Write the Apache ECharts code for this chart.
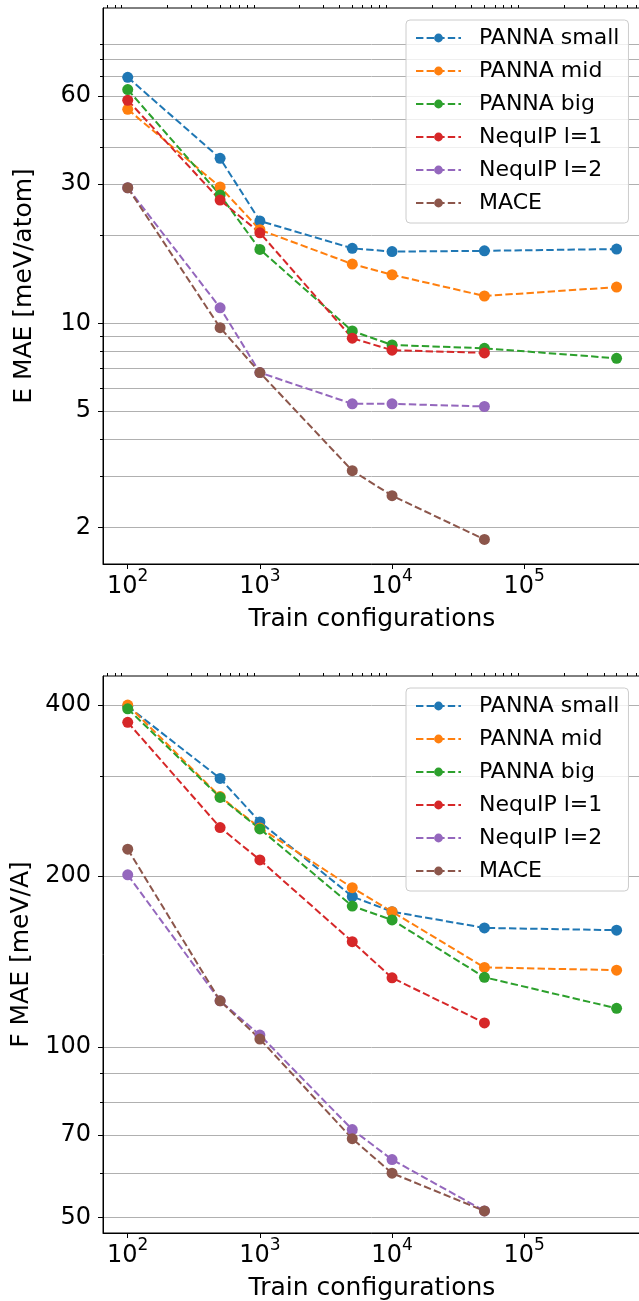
<!DOCTYPE html>
<html>
<head>
<meta charset="utf-8">
<script src="https://cdn.jsdelivr.net/npm/echarts@6/dist/echarts.min.js"></script>
<style>
  html, body { margin: 0; padding: 0; background: #fff; }
  #chart { width: 639px; height: 1301px; }
</style>
</head>
<body>
<div id="chart"></div>
<script>
// number of training configurations (x)
const trainSizes = [100, 500, 1000, 5000, 10000, 50000, 500000];
const modelNames = ["PANNA small", "PANNA mid", "PANNA big", "NequIP l=1", "NequIP l=2", "MACE"];
const colors = ["#1f77b4", "#ff7f0e", "#2ca02c", "#d62728", "#9467bd", "#8c564b"];

// E MAE [meV/atom]
const ePannaSmall = [69.5, 36.7, 22.4, 18.05, 17.6, 17.7, 17.95];
const ePannaMid   = [54.0, 29.3, 20.9, 15.95, 14.66, 12.4, 13.3];
const ePannaBig   = [63.1, 27.5, 17.9, 9.41, 8.43, 8.21, 7.59];
const eNequip1    = [58.0, 26.4, 20.4, 8.89, 8.09, 7.92];
const eNequip2    = [29.1, 11.3, 6.78, 5.30, 5.30, 5.19];
const eMace       = [29.1, 9.66, 6.78, 3.13, 2.57, 1.82];

// F MAE [meV/A]
const fPannaSmall = [398, 297, 249, 184, 173, 162, 160.5];
const fPannaMid   = [400, 276, 243, 190.7, 173, 138, 136.5];
const fPannaBig   = [394, 275, 242, 177, 167.3, 132.6, 116.9];
const fNequip1    = [373, 243.4, 213.4, 153.2, 132.3, 110.2];
const fNequip2    = [200.9, 120.5, 104.9, 71.5, 63.3, 51.4];
const fMace       = [222.9, 120.5, 103.2, 68.9, 59.9, 51.4];

// ticks
const xMajorTicks = [100, 1000, 10000, 100000];
const xMinorTicks = [70, 80, 90, 200, 300, 400, 500, 600, 700, 800, 900,
  2000, 3000, 4000, 5000, 6000, 7000, 8000, 9000,
  20000, 30000, 40000, 50000, 60000, 70000, 80000, 90000,
  200000, 300000, 400000, 500000, 600000, 700000];
const eMajorTicks = [2, 5, 10, 30, 60];
const eMinorTicks = [3, 4, 6, 7, 8, 9, 20, 40, 50, 70, 80, 90];
const fMajorTicks = [50, 70, 100, 200, 400];
const fMinorTicks = [60, 80, 90, 300];

const FONT = "DejaVu Sans";
const GRID_COLOR = "#b0b0b0";

const chart = echarts.init(document.getElementById("chart"), null, { renderer: "canvas" });

function xAxes(gridIndex) {
  return [
    {
      type: "log", gridIndex, min: 65, max: 765000,
      axisLine: { show: true, onZero: false, lineStyle: { color: "#000", width: 1 } },
      axisTick: { show: true, length: 5, customValues: xMajorTicks, lineStyle: { color: "#000", width: 1 } },
      axisLabel: {
        customValues: xMajorTicks, margin: 4,
        formatter: (v) => "{b|10}{s|" + Math.round(Math.log10(v)) + "}",
        rich: {
          b: { fontSize: 24, lineHeight: 38, verticalAlign: "middle", fontFamily: FONT, color: "#000" },
          s: { fontSize: 17, lineHeight: 17, verticalAlign: "top", fontFamily: FONT, color: "#000" },
        },
      },
      splitLine: { show: false },
      name: "Train configurations", nameLocation: "middle", nameGap: 43,
      nameTextStyle: { fontSize: 25, fontFamily: FONT, color: "#000" },
    },
    {
      type: "log", gridIndex, min: 65, max: 765000,
      axisLine: { show: false },
      axisTick: { show: true, length: 3, customValues: xMinorTicks, lineStyle: { color: "#000", width: 1 } },
      axisLabel: { show: false },
      splitLine: { show: false },
    },
  ];
}

function yAxes(gridIndex, min, max, major, minor, name) {
  return [
    {
      type: "log", gridIndex, min, max,
      axisLine: { show: true, lineStyle: { color: "#000", width: 1 } },
      axisTick: { show: true, length: 5, customValues: major, lineStyle: { color: "#000", width: 1 } },
      axisLabel: {
        customValues: major, margin: 12, formatter: (v) => String(Math.round(v)),
        fontSize: 24, fontFamily: FONT, color: "#000",
      },
      splitLine: { show: true, lineStyle: { color: GRID_COLOR, width: 1 } },
      name, nameLocation: "middle", nameGap: 66,
      nameTextStyle: { fontSize: 25, fontFamily: FONT, color: "#000" },
    },
    {
      type: "log", gridIndex, min, max, position: "left",
      axisLine: { show: false },
      axisTick: { show: true, length: 3, customValues: minor, lineStyle: { color: "#000", width: 1 } },
      axisLabel: { show: false },
      splitLine: { show: true, lineStyle: { color: GRID_COLOR, width: 1 } },
    },
  ];
}

function makeSeries(sets, xIdx, yIdx) {
  return sets.map((vals, i) => ({
    name: modelNames[i],
    type: "line",
    xAxisIndex: xIdx,
    yAxisIndex: yIdx,
    data: vals.map((v, k) => [trainSizes[k], v]),
    symbol: "circle",
    symbolSize: 11,
    itemStyle: { color: colors[i] },
    lineStyle: { color: colors[i], width: 2, type: [7.4, 3.2] },
    emphasis: { disabled: true },
  }));
}

function makeLegend(top) {
  return {
    data: modelNames,
    orient: "vertical",
    left: 406, top,
    itemWidth: 45, itemHeight: 11, itemGap: 9,
    padding: [6, 9, 8, 9],
    backgroundColor: "rgba(255,255,255,0.8)",
    borderColor: "#cccccc", borderWidth: 1, borderRadius: 4,
    textStyle: { fontSize: 22, lineHeight: 24, fontFamily: FONT, color: "#000", padding: [0, 0, 0, 13] },
  };
}

chart.setOption({
  animation: false,
  backgroundColor: "#fff",
  textStyle: { fontFamily: FONT },
  grid: [
    { left: 103, top: 8, right: -2, height: 556, show: true, borderColor: "#000", borderWidth: 1, outerBoundsMode: "none" },
    { left: 103, top: 676, right: -2, height: 557, show: true, borderColor: "#000", borderWidth: 1, outerBoundsMode: "none" },
  ],
  xAxis: [...xAxes(0), ...xAxes(1)],
  yAxis: [
    ...yAxes(0, 1.5, 120, eMajorTicks, eMinorTicks, "E MAE [meV/atom]"),
    ...yAxes(1, 47, 450, fMajorTicks, fMinorTicks, "F MAE [meV/A]"),
  ],
  legend: [makeLegend(20), makeLegend(688)],
  series: [
    ...makeSeries([ePannaSmall, ePannaMid, ePannaBig, eNequip1, eNequip2, eMace], 0, 0),
    ...makeSeries([fPannaSmall, fPannaMid, fPannaBig, fNequip1, fNequip2, fMace], 2, 2),
  ],
});
</script>
</body>
</html>
